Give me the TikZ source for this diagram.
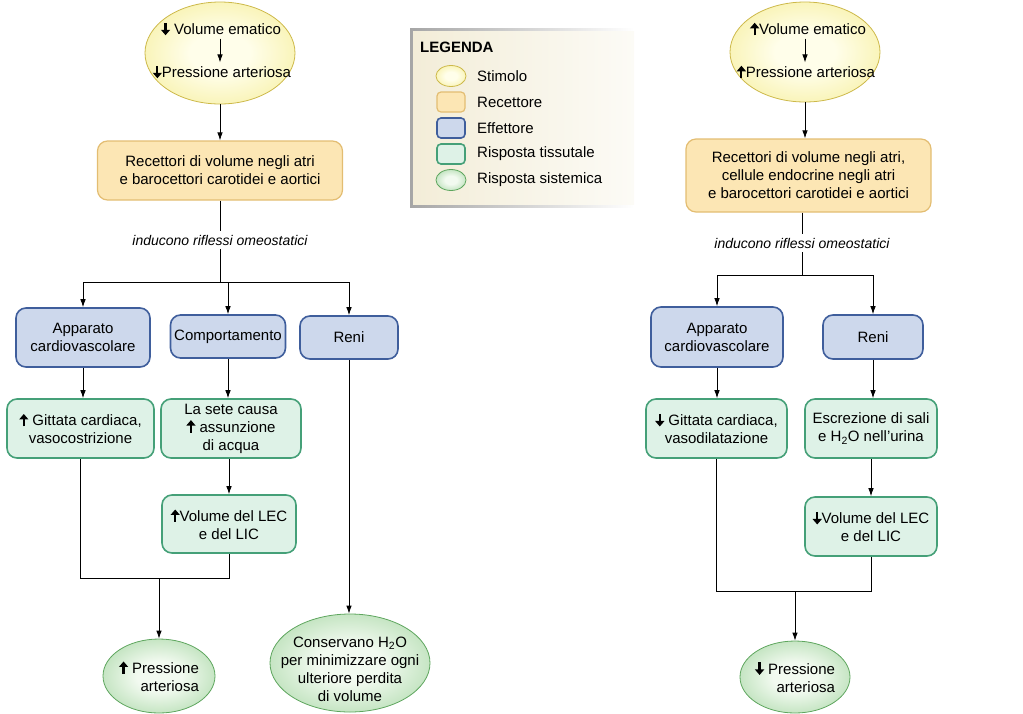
\documentclass[tikz,border=0pt]{standalone}
\usepackage{fontspec}
\setmainfont{Liberation Sans}
\usetikzlibrary{shapes.geometric,arrows.meta}
\newsavebox{\dnbox}
\newsavebox{\upbox}
\newcommand{\dn}{\usebox{\dnbox}}
\newcommand{\up}{\usebox{\upbox}}
\definecolor{stimO}{HTML}{F0E46A}
\definecolor{stimI}{HTML}{FFFEEA}
\definecolor{stimB}{HTML}{CDB94A}
\definecolor{recF}{HTML}{FCE6B4}
\definecolor{recB}{HTML}{E3BD72}
\definecolor{effF}{HTML}{CDD8EC}
\definecolor{effB}{HTML}{3F5E9C}
\definecolor{tisF}{HTML}{DEF2E7}
\definecolor{tisB}{HTML}{45A078}
\definecolor{sysO}{HTML}{7CC279}
\definecolor{sysI}{HTML}{F2FAF0}
\definecolor{sysB}{HTML}{5EA65E}
\definecolor{legF}{HTML}{F3EDD8}
\definecolor{legR}{HTML}{FCFBF6}
\pgfdeclareradialshading{stimsh}{\pgfpointorigin}{color(0bp)=(stimI); color(10bp)=(stimI); color(50bp)=(stimO)}
\pgfdeclareradialshading{syssh}{\pgfpointorigin}{color(0bp)=(sysI); color(10bp)=(sysI); color(50bp)=(sysO)}
\begin{document}
\begin{tikzpicture}[x=1pt,y=-1pt,font=\fontsize{15}{18}\selectfont,
  arr/.style={-{Latex[length=8pt,width=5.5pt]},line width=0.8pt},
  ln/.style={line width=0.8pt},
  stim/.style={ellipse,draw=stimB,line width=0.8pt,shading=stimsh,inner sep=0pt},
  sysbox/.style={ellipse,draw=sysB,line width=0.8pt,shading=syssh,inner sep=0pt},
  recbox/.style={rectangle,rounded corners=10pt,draw=recB,fill=recF,line width=1.2pt,align=center,inner sep=0pt},
  effbox/.style={rectangle,rounded corners=10pt,draw=effB,fill=effF,line width=1.6pt,align=center,inner sep=0pt},
  tisbox/.style={rectangle,rounded corners=10pt,draw=tisB,fill=tisF,line width=1.6pt,align=center,inner sep=0pt},
  txt/.style={inner sep=2pt,align=center},
  lab/.style={inner sep=4pt,font=\fontsize{14}{16}\selectfont\itshape},
  legtxt/.style={anchor=west,inner sep=0pt}
]
\begin{pgfinterruptboundingbox}
\global\sbox{\dnbox}{\tikz[baseline=0pt,x=1pt,y=1pt]{\draw[line width=2.2pt,-{Triangle[length=5.5pt,width=9pt]}] (0,12) -- (0,-0.5);}}%
\global\sbox{\upbox}{\tikz[baseline=0pt,x=1pt,y=1pt]{\draw[line width=2.2pt,-{Triangle[length=5.5pt,width=9pt]}] (0,-0.5) -- (0,12);}}%
\end{pgfinterruptboundingbox}
\useasboundingbox (0,0) rectangle (1023,713);

% ---------------- Legend ----------------
\fill[left color=black!35,right color=white] (410,28) rectangle (634,207);
\fill[left color=legF,right color=legR] (413,31) rectangle (634,204);
\node[anchor=west,inner sep=0pt,font=\fontsize{15}{18}\selectfont\bfseries] (legt) at (420,47) {LEGENDA};
\node[stim,minimum width=30pt,minimum height=21pt] (lg1) at (451,76) {};
\node[recbox,rounded corners=4pt,minimum width=28pt,minimum height=20pt] (lg2) at (451,102) {};
\node[effbox,rounded corners=4pt,minimum width=28pt,minimum height=20pt] (lg3) at (451,128) {};
\node[tisbox,rounded corners=4pt,minimum width=28pt,minimum height=20pt] (lg4) at (451,154) {};
\node[sysbox,minimum width=30pt,minimum height=21pt] (lg5) at (451,180) {};
\node[legtxt] (lgt1) at (477,76) {Stimolo};
\node[legtxt] (lgt2) at (477,102) {Recettore};
\node[legtxt] (lgt3) at (477,128) {Effettore};
\node[legtxt] (lgt4) at (477,154) {Risposta tissutale};
\node[legtxt] (lgt5) at (477,180) {Risposta sistemica};

% ---------------- Left diagram ----------------
\node[stim,minimum width=150pt,minimum height=102pt] (s1) at (220,53) {};
\node[txt] (s1a) at (221,29) {\dn\ Volume ematico};
\node[txt] (s1b) at (222,72) {\dn Pressione arteriosa};
\draw[arr] (s1a.south -| s1) -- (s1b.north -| s1);

\node[recbox,minimum width=245pt,minimum height=59pt] (r1) at (220,170.5) {Recettori di volume negli atri\\e barocettori carotidei e aortici};
\draw[arr] (s1.south) -- (r1.north);

\node[lab] (l1) at (220,240) {inducono riflessi omeostatici};
\draw[ln] (r1.south) -- (l1.north);
\coordinate (j1) at (220,282);
\draw[ln] (l1.south) -- (j1);

\node[effbox,minimum width=134pt,minimum height=59pt] (e1) at (83,337.5) {Apparato\\cardiovascolare};
\node[effbox,minimum width=115pt,minimum height=43pt] (e2) at (228,336.5) {Comportamento};
\node[effbox,minimum width=98pt,minimum height=43pt] (e3) at (349,337.5) {Reni};
\draw[arr] (j1) -| (e1.north);
\draw[arr] (j1) -| (e2.north);
\draw[arr] (j1) -| (e3.north);

\node[tisbox,minimum width=147pt,minimum height=59pt] (t1) at (80.5,428.5) {\up\ Gittata cardiaca,\\vasocostrizione};
\node[tisbox,minimum width=140pt,minimum height=59pt] (t2) at (231,428.5) {La sete causa\\\up\ assunzione\\di acqua};
\node[tisbox,minimum width=134pt,minimum height=58pt] (t3) at (229,524) {\up Volume del LEC\\e del LIC};
\draw[arr] (e1.south) -- (e1.south |- t1.north);
\draw[arr] (e2.south) -- (e2.south |- t2.north);
\draw[arr] (t3.north |- t2.south) -- (t3.north);

\node[sysbox,minimum width=112pt,minimum height=74pt] (p1) at (159,676) {};
\node[txt,align=right] (p1t) at (159,676) {\up\ Pressione\\arteriosa};
\coordinate (j2) at (159,578);
\draw[ln] (t1.south) |- (j2);
\draw[ln] (t3.south) |- (j2);
\draw[arr] (j2) -- (p1.north);

\node[sysbox,minimum width=160pt,minimum height=98pt] (c1) at (350,663) {};
\node[txt] (c1t) at (350,669) {Conservano H\textsubscript{2}O\\per minimizzare ogni\\ulteriore perdita\\di volume};
\draw[arr] (e3.south) -- (e3.south |- c1.north);

% ---------------- Right diagram ----------------
\node[stim,minimum width=150pt,minimum height=100pt] (s2) at (805,52) {};
\node[txt] (s2a) at (808,29) {\up Volume ematico};
\node[txt] (s2b) at (806,72) {\up Pressione arteriosa};
\draw[arr] (s2a.south -| s2) -- (s2b.north -| s2);

\node[recbox,minimum width=245pt,minimum height=73pt] (r2) at (808.5,175.5) {Recettori di volume negli atri,\\cellule endocrine negli atri\\e barocettori carotidei e aortici};
\draw[arr] (s2.south) -- (s2.south |- r2.north);

\node[lab] (l2) at (802,243) {inducono riflessi omeostatici};
\draw[ln] (l2.north |- r2.south) -- (l2.north);
\coordinate (j3) at (802,275);
\draw[ln] (l2.south) -- (j3);

\node[effbox,minimum width=132pt,minimum height=60pt] (e4) at (717,337) {Apparato\\cardiovascolare};
\node[effbox,minimum width=100pt,minimum height=44pt] (e5) at (873,337) {Reni};
\draw[arr] (j3) -| (e4.north);
\draw[arr] (j3) -| (e5.north);

\node[tisbox,minimum width=141pt,minimum height=59pt] (t4) at (716.5,428.5) {\dn\ Gittata cardiaca,\\vasodilatazione};
\node[tisbox,minimum width=132pt,minimum height=59pt] (t5) at (871,428.5) {Escrezione di sali\\e H\textsubscript{2}O nell’urina};
\node[tisbox,minimum width=132pt,minimum height=59pt] (t6) at (871,526.5) {\dn Volume del LEC\\e del LIC};
\draw[arr] (e4.south) -- (e4.south |- t4.north);
\draw[arr] (e5.south) -- (e5.south |- t5.north);
\draw[arr] (t5.south) -- (t6.north);

\node[sysbox,minimum width=110pt,minimum height=72pt] (p2) at (795,677) {};
\node[txt,align=right] (p2t) at (795,677) {\dn\ Pressione\\arteriosa};
\coordinate (j4) at (795,591);
\draw[ln] (t4.south) |- (j4);
\draw[ln] (t6.south) |- (j4);
\draw[arr] (j4) -- (p2.north);
\end{tikzpicture}
\end{document}
